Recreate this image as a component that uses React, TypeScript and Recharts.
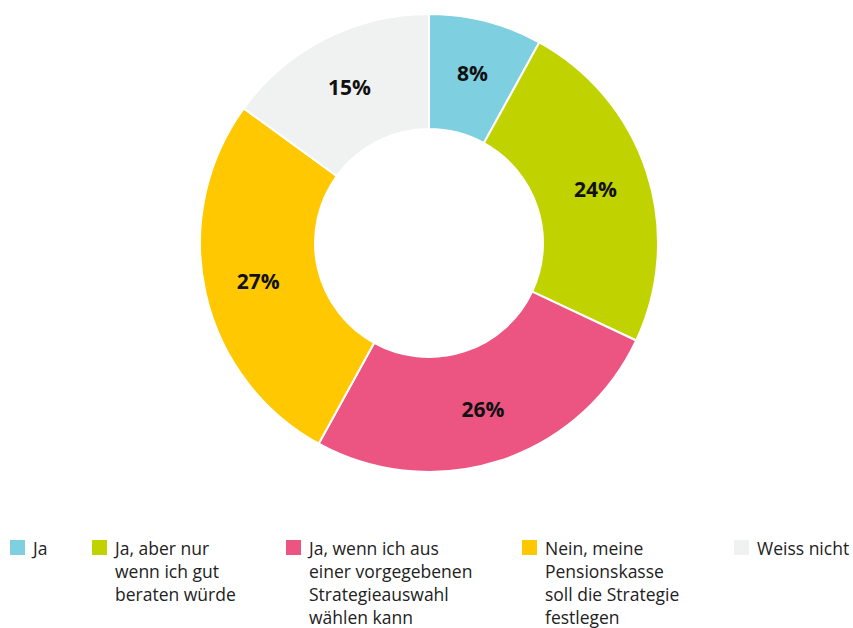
import React from 'react';
import { PieChart, Pie, Cell } from 'recharts';

const categories = [
  'Ja',
  'Ja, aber nur wenn ich gut beraten würde',
  'Ja, wenn ich aus einer vorgegebenen Strategieauswahl wählen kann',
  'Nein, meine Pensionskasse soll die Strategie festlegen',
  'Weiss nicht',
];
const legendLines = [
  ['Ja'],
  ['Ja, aber nur', 'wenn ich gut', 'beraten würde'],
  ['Ja, wenn ich aus', 'einer vorgegebenen', 'Strategieauswahl', 'wählen kann'],
  ['Nein, meine', 'Pensionskasse', 'soll die Strategie', 'festlegen'],
  ['Weiss nicht'],
];
const values = [8, 24, 26, 27, 15];
const colors = ['#7ecfe0', '#c0d200', '#ec5582', '#ffc800', '#f0f1f1'];

const legendX = [10, 92, 286, 522, 734];

const data = categories.map((name, i) => ({ name, value: values[i] }));

const RAD = Math.PI / 180;

const renderLabel = (props: any) => {
  const { cx, cy, midAngle, value } = props;
  const r = 175;
  const x = cx + r * Math.cos(-midAngle * RAD);
  const y = cy + r * Math.sin(-midAngle * RAD);
  return (
    <text
      x={x}
      y={y}
      textAnchor="middle"
      dominantBaseline="central"
      fill="#111"
      fontSize={21}
      fontWeight={700}
      fontFamily="'Open Sans', sans-serif"
    >
      {value}%
    </text>
  );
};

export default function App() {
  return (
    <div style={{ position: 'fixed', top: 0, left: 0, width: 853, height: 628, background: '#fff', overflow: 'hidden' }}>
      <PieChart width={853} height={500}>
        <Pie
          data={data}
          dataKey="value"
          cx={424}
          cy={238}
          innerRadius={114}
          outerRadius={229}
          startAngle={90}
          endAngle={-270}
          stroke="#fff"
          strokeWidth={2}
          label={renderLabel}
          labelLine={false}
          isAnimationActive={false}
        >
          {data.map((d, i) => (
            <Cell key={d.name} fill={colors[i]} />
          ))}
        </Pie>
      </PieChart>
      {legendLines.map((lines, i) => (
        <div
          key={i}
          style={{
            position: 'absolute',
            left: legendX[i],
            top: 537,
            display: 'flex',
            fontFamily: "'Open Sans', sans-serif",
            fontSize: 17.5,
            lineHeight: '23px',
            color: '#222',
          }}
        >
          <div style={{ width: 15, height: 15, background: colors[i], marginTop: 3, marginRight: 8, flexShrink: 0 }} />
          <div>
            {lines.map((l) => (
              <div key={l} style={{ whiteSpace: 'nowrap' }}>{l}</div>
            ))}
          </div>
        </div>
      ))}
    </div>
  );
}
